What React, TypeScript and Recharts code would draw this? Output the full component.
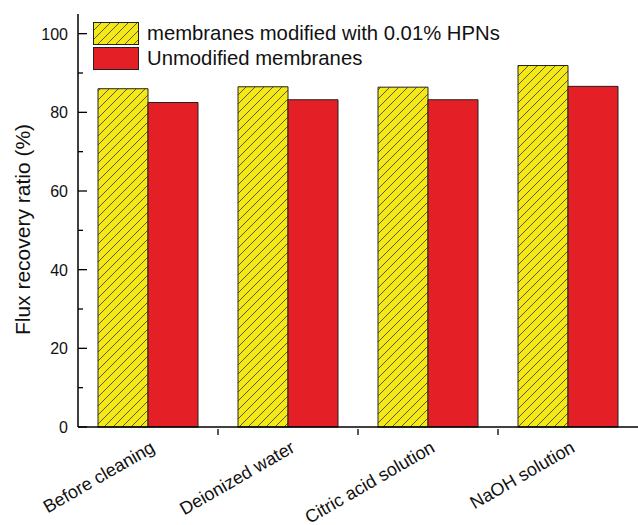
import React from 'react';
import { BarChart, Bar, XAxis, YAxis } from 'recharts';

// Cleaning conditions and measured flux recovery ratios (%)
const categories = ['Before cleaning', 'Deionized water', 'Citric acid solution', 'NaOH solution'];
const modifiedValues = [86.0, 86.5, 86.4, 91.9];
const unmodifiedValues = [82.5, 83.2, 83.2, 86.6];
const yTicks = [0, 10, 20, 30, 40, 50, 60, 70, 80, 90, 100];
const seriesNames = ['membranes modified with 0.01% HPNs', 'Unmodified membranes'];

const data = categories.map((name, i) => ({
  name,
  modified: modifiedValues[i],
  unmodified: unmodifiedValues[i],
}));

const W = 638;
const H = 525;
const MARGIN = { top: 14, right: 0, bottom: 0, left: 0 };
const Y_AXIS_W = 78;
const X_AXIS_H = 98;
const FONT = 'Liberation Sans, Arial, sans-serif';
const YELLOW = '#f4e817';
const RED = '#e41f26';

const HatchDef = ({ id }: { id: string }) => (
  <defs>
    <pattern id={id} patternUnits="userSpaceOnUse" width={9} height={9}>
      <rect width={9} height={9} fill={YELLOW} />
      <path d="M-1,1 L1,-1 M0,9 L9,0 M8,10 L10,8" stroke="#333" strokeWidth={0.8} />
    </pattern>
  </defs>
);

const YTick = (props: any) => {
  const { x, y, payload } = props;
  const v = payload.value;
  const major = v % 20 === 0;
  const axisX = x + 10;
  return (
    <g>
      <line x1={axisX} x2={axisX + (major ? 9 : 5)} y1={y} y2={y} stroke="#000" strokeWidth={1.3} />
      {major && (
        <text x={x} y={y} dy={6} textAnchor="end" fontSize={16} fontFamily={FONT} fill="#111">
          {v}
        </text>
      )}
    </g>
  );
};

const XTick = (props: any) => {
  const { x, y, payload, index } = props;
  const band = (W - Y_AXIS_W - MARGIN.left - MARGIN.right) / categories.length;
  const tx = x + 8;
  const ty = y + 16;
  return (
    <g>
      {index < categories.length - 1 && (
        <line x1={x + band / 2} x2={x + band / 2} y1={y} y2={y - 6} stroke="#000" strokeWidth={1.3} />
      )}
      <text
        x={tx}
        y={ty}
        transform={`rotate(-30 ${tx} ${ty})`}
        textAnchor="end"
        fontSize={18}
        fontFamily={FONT}
        fill="#111"
      >
        {payload.value}
      </text>
    </g>
  );
};

const YLabel = (props: any) => {
  const { viewBox } = props;
  const cx = 22;
  const cy = viewBox.y + viewBox.height / 2 + 9;
  return (
    <text
      x={cx}
      y={cy}
      transform={`rotate(-90 ${cx} ${cy})`}
      textAnchor="middle"
      dominantBaseline="central"
      fontSize={21}
      fontFamily={FONT}
      fill="#111"
    >
      Flux recovery ratio (%)
    </text>
  );
};

const LegendBox = () => (
  <div
    style={{
      position: 'absolute',
      left: 93,
      top: 21,
      fontFamily: FONT,
      fontSize: 20.3,
      color: '#111',
      lineHeight: '25px',
      whiteSpace: 'nowrap',
    }}
  >
    {seriesNames.map((n, i) => (
      <div key={n} style={{ display: 'flex', alignItems: 'center', height: 25 }}>
        <svg width={46} height={23} style={{ display: 'block' }}>
          {i === 0 && <HatchDef id="legendHatch" />}
          <rect
            x={0.5}
            y={0.5}
            width={45}
            height={22}
            fill={i === 0 ? 'url(#legendHatch)' : RED}
            stroke="#222"
            strokeWidth={1}
          />
        </svg>
        <span style={{ marginLeft: 8 }}>{n}</span>
      </div>
    ))}
  </div>
);

export default function App() {
  return (
    <div style={{ position: 'absolute', left: 0, top: 0, width: W, height: H, background: '#fff' }}>
      <BarChart width={W} height={H} data={data} margin={MARGIN} barGap={0} barCategoryGap={20}>
        <HatchDef id="barHatch" />
        <XAxis
          dataKey="name"
          axisLine={{ stroke: '#000', strokeWidth: 1.5 }}
          tickLine={false}
          tick={<XTick />}
          interval={0}
          height={X_AXIS_H}
        />
        <XAxis
          xAxisId="top"
          orientation="top"
          dataKey="name"
          axisLine={{ stroke: '#777', strokeWidth: 1 }}
          tick={false}
          tickLine={false}
          height={0}
        />
        <YAxis
          domain={[0, 105]}
          ticks={yTicks}
          interval={0}
          axisLine={{ stroke: '#000', strokeWidth: 1.5 }}
          tickLine={false}
          tickSize={0}
          tickMargin={10}
          tick={<YTick />}
          width={Y_AXIS_W}
          label={<YLabel />}
        />
        <Bar dataKey="modified" fill="url(#barHatch)" stroke="#222" strokeWidth={1} isAnimationActive={false} />
        <Bar dataKey="unmodified" fill={RED} stroke="#222" strokeWidth={1} isAnimationActive={false} />
      </BarChart>
      <LegendBox />
    </div>
  );
}
